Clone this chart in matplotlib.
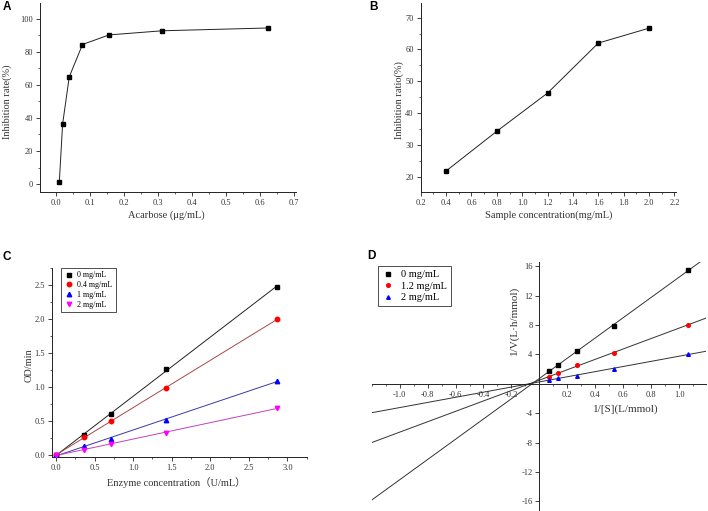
import numpy as np
import matplotlib
matplotlib.use("Agg")
import matplotlib.pyplot as plt
from matplotlib.ticker import MultipleLocator

plt.rcParams['font.family'] = ['Liberation Serif', 'Noto Sans CJK SC', 'DejaVu Serif']

# ---- data ----
a_x = [0.0098, 0.0195, 0.039, 0.078, 0.156, 0.3125, 0.625]
a_y = [1.2, 36.3, 64.8, 84.4, 90.2, 92.7, 94.4]

b_x = [0.4, 0.8, 1.2, 1.6, 2.0]
b_y = [21.8, 34.3, 46.3, 62.0, 66.7]

c_x = [0.0, 0.357, 0.714, 1.43, 2.86]
c_labels = ['0 mg/mL', '0.4 mg/mL', '1 mg/mL', '2 mg/mL']
c_y0 = [0.0, 0.30, 0.60, 1.26, 2.48]
c_y04 = [0.0, 0.26, 0.50, 0.98, 2.00]
c_y1 = [0.0, 0.13, 0.24, 0.52, 1.09]
c_y2 = [0.0, 0.08, 0.16, 0.33, 0.69]

d_x = [0.0667, 0.1333, 0.2667, 0.5333, 1.0667]
d_labels = ['0 mg/mL', '1.2 mg/mL', '2 mg/mL']
d_y0 = [1.7, 2.6, 4.4, 7.9, 15.5]
d_y12 = [0.9, 1.45, 2.5, 4.2, 8.05]
d_y2 = [0.55, 0.8, 1.1, 2.0, 4.05]

W, H = 708, 511
fig = plt.figure(figsize=(W / 100, H / 100), dpi=100)
TXT = '#333333'
TICKFS = 6
LABFS = 7.5


def ax_px(left, right, top, bottom):
    return fig.add_axes([left / W, 1 - bottom / H, (right - left) / W, (bottom - top) / H])


def style(ax):
    for s in ['top', 'right']:
        ax.spines[s].set_visible(False)
    for s in ['left', 'bottom']:
        ax.spines[s].set_linewidth(0.7)
        ax.spines[s].set_color('#222222')
    ax.tick_params(which='major', direction='out', length=3, width=0.6, labelsize=TICKFS,
                   colors='#222222', labelcolor=TXT, pad=2)
    ax.tick_params(which='minor', direction='out', length=1.7, width=0.5, colors='#222222')


# ---- A ----
axA = ax_px(40, 296, 3, 192)
style(axA)
axA.plot(a_x, a_y, '-', color='#222222', lw=0.7, marker='s', ms=3, mfc='black', mec='black')
axA.set_xlim(-0.047, 0.706)
axA.set_ylim(-4.8, 109.5)
axA.set_xticks(np.arange(0, 0.71, 0.1))
axA.set_xticklabels(['%.1f' % v for v in np.arange(0, 0.71, 0.1)])
axA.xaxis.set_minor_locator(MultipleLocator(0.05))
axA.set_yticks(np.arange(0, 101, 20))
axA.yaxis.set_minor_locator(MultipleLocator(10))
axA.set_xlabel('Acarbose (μg/mL)', fontsize=LABFS, color=TXT)
axA.set_ylabel('Inhibition rate(%)', fontsize=LABFS, color=TXT)
axA.xaxis.set_label_coords(0.495, -0.095)
axA.yaxis.set_label_coords(-0.109, 0.478)

# ---- B ----
axB = ax_px(420.7, 675.7, 3, 192)
style(axB)
axB.plot(b_x, b_y, '-', color='#222222', lw=0.7, marker='s', ms=3, mfc='black', mec='black')
axB.set_xlim(0.2, 2.21)
axB.set_ylim(15.2, 74.6)
axB.set_xticks(np.arange(0.2, 2.21, 0.2))
axB.set_xticklabels(['%.1f' % v for v in np.arange(0.2, 2.21, 0.2)])
axB.xaxis.set_minor_locator(MultipleLocator(0.1))
axB.set_yticks(np.arange(20, 71, 10))
axB.yaxis.set_minor_locator(MultipleLocator(5))
axB.set_xlabel('Sample concentration(mg/mL)', fontsize=LABFS, color=TXT)
axB.set_ylabel('Inhibition ratio(%)', fontsize=LABFS, color=TXT)
axB.xaxis.set_label_coords(0.5, -0.095)
axB.yaxis.set_label_coords(-0.065, 0.487)

# ---- C ----
axC = ax_px(52.3, 306.7, 268.3, 457.3)
style(axC)
c_series = [c_y0, c_y04, c_y1, c_y2]
c_mk = ['s', 'o', '^', 'v']
c_mcol = ['black', '#ff0000', '#0000ff', '#ff00ff']
c_lcol = ['#222222', '#a84848', '#3838a8', '#c040c0']
xs = np.array([0.0, max(c_x)])
for ys, mk, mc, lc, lab in zip(c_series, c_mk, c_mcol, c_lcol, c_labels):
    k, b = np.polyfit(c_x, ys, 1)
    axC.plot(xs, k * xs + b, '-', color=lc, lw=0.7, zorder=2)
    axC.plot(c_x, ys, linestyle='none', marker=mk, ms=3.2, mfc=mc, mec=mc, label=lab, zorder=3)
axC.set_xlim(-0.048, 3.25)
axC.set_ylim(-0.034, 2.75)
axC.set_xticks(np.arange(0, 3.01, 0.5))
axC.set_xticklabels(['%.1f' % v for v in np.arange(0, 3.01, 0.5)])
axC.xaxis.set_minor_locator(MultipleLocator(0.25))
axC.set_yticks(np.arange(0, 2.51, 0.5))
axC.set_yticklabels(['%.1f' % v for v in np.arange(0, 2.51, 0.5)])
axC.yaxis.set_minor_locator(MultipleLocator(0.25))
axC.set_xlabel('Enzyme concentration（U/mL）', fontsize=LABFS, color=TXT)
axC.set_ylabel('OD/min', fontsize=LABFS, color=TXT)
axC.xaxis.set_label_coords(0.489, -0.104)
axC.yaxis.set_label_coords(-0.072, 0.488)
legC = axC.legend(loc='upper left', bbox_to_anchor=(0.034, 1.003), fontsize=5.8, frameon=True,
                  fancybox=False, handlelength=1.0, handletextpad=0.6, borderpad=0.45,
                  labelspacing=0.22, borderaxespad=0, markerscale=1.0)
legC.get_frame().set_edgecolor('#222222')
legC.get_frame().set_linewidth(0.7)

# ---- D ----
axD = ax_px(371.7, 705.7, 261.7, 511)
axD.set_xlim(-1.2, 1.19)
axD.set_ylim(-17.3, 16.6)
for s in ['top', 'right']:
    axD.spines[s].set_visible(False)
axD.spines['left'].set_position(('data', 0))
axD.spines['bottom'].set_position(('data', 0))
for s in ['left', 'bottom']:
    axD.spines[s].set_linewidth(0.7)
    axD.spines[s].set_color('#222222')
axD.tick_params(which='major', direction='out', length=3, width=0.6, labelsize=TICKFS,
                colors='#222222', labelcolor=TXT, pad=2)
axD.tick_params(which='minor', direction='out', length=1.7, width=0.5, colors='#222222')
xt = [v for v in np.round(np.arange(-1.0, 1.01, 0.2), 1) if abs(v) > 1e-9]
axD.set_xticks(xt)
axD.set_xticklabels(['%.1f' % v for v in xt])
axD.xaxis.set_minor_locator(MultipleLocator(0.1))
yt = [v for v in range(-16, 17, 4) if v != 0]
axD.set_yticks(yt)
axD.set_yticklabels([str(v) for v in yt])
d_series = [d_y0, d_y12, d_y2]
d_mk = ['s', 'o', '^']
d_mcol = ['black', '#ff0000', '#0000ff']
xl = np.array([-1.2, 1.19])
for ys, mk, mc, lab in zip(d_series, d_mk, d_mcol, d_labels):
    k, b = np.polyfit(d_x, ys, 1)
    axD.plot(xl, k * xl + b, '-', color='#333333', lw=0.7, zorder=2)
    axD.plot(d_x, ys, linestyle='none', marker=mk, ms=2.6, mfc=mc, mec=mc, label=lab, zorder=3)
axD.set_xlabel('1/[S](L/mmol)', fontsize=8, color=TXT)
axD.set_ylabel('1/V(L·h/mmol)', fontsize=8, color=TXT)
axD.xaxis.set_label_coords(0.76, 0.429)
axD.yaxis.set_label_coords(0.441, 0.766)
legD = axD.legend(loc='upper left', bbox_to_anchor=(0.019, 0.983), fontsize=7.5, frameon=True,
                  fancybox=False, handlelength=1.2, handletextpad=0.6, borderpad=0.4,
                  labelspacing=0.2, borderaxespad=0)
legD.get_frame().set_edgecolor('#222222')
legD.get_frame().set_linewidth(0.7)

# panel letters
for lab, x, y in [('A', 7, 7), ('B', 374, 7), ('C', 7, 257), ('D', 371, 256)]:
    fig.text(x / W, 1 - y / H, lab, fontsize=8.5, fontweight='bold', family='Liberation Sans',
             ha='center', va='center')

fig.savefig('out.png', dpi=100)
